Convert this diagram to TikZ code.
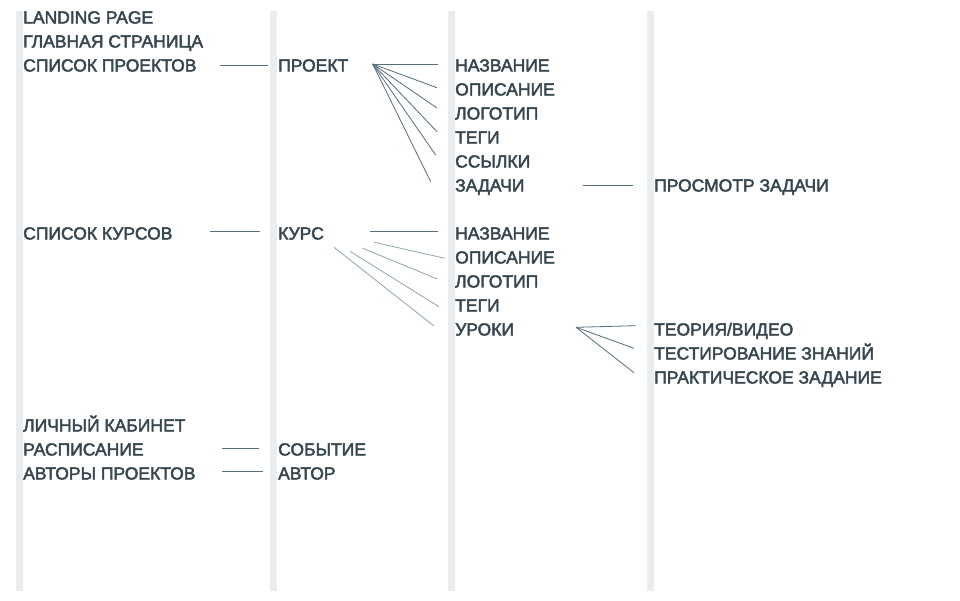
\documentclass[tikz,border=0pt]{standalone}
\usepackage{fontspec}
\setmainfont{Liberation Sans}[FakeBold=2.5]
\usepackage{tikz}

\definecolor{barcol}{HTML}{E9EDF0}
\definecolor{txtcol}{HTML}{37474F}
\definecolor{linkcol}{HTML}{546E7A}
\definecolor{softcol}{HTML}{90A4AE}

\begin{document}
\begin{tikzpicture}[x=1pt,y=-1pt,
    item/.style={anchor=base west,inner sep=0pt,text=txtcol,font=\fontsize{17.5}{17.5}\selectfont},
    link/.style={draw=linkcol,line width=0.8pt},
    soft/.style={draw=softcol,line width=0.8pt}]
\useasboundingbox[fill=white] (0,0) rectangle (960,600);
\foreach \bx in {16,270,448,647}
  \fill[barcol] (\bx,11) rectangle ++(7,580);
\node[item] (landing) at (23,23.5) {LANDING PAGE};
\node[item] (glavnaya) at (23,47.5) {ГЛАВНАЯ СТРАНИЦА};
\node[item] (spisokpr) at (23,71.5) {СПИСОК ПРОЕКТОВ};
\node[item] (spisokkr) at (23,239.5) {СПИСОК КУРСОВ};
\node[item] (kabinet) at (23,431.5) {ЛИЧНЫЙ КАБИНЕТ};
\node[item] (raspis) at (23,455.5) {РАСПИСАНИЕ};
\node[item] (avtory) at (23,479.5) {АВТОРЫ ПРОЕКТОВ};
\node[item] (proekt) at (278,71.5) {ПРОЕКТ};
\node[item] (kurs) at (278,239.5) {КУРС};
\node[item] (sobytie) at (278,455.5) {СОБЫТИЕ};
\node[item] (avtor) at (278,479.5) {АВТОР};
\node[item] (pname) at (455,71.5) {НАЗВАНИЕ};
\node[item] (pdesc) at (455,95.5) {ОПИСАНИЕ};
\node[item] (plogo) at (455,119.5) {ЛОГОТИП};
\node[item] (ptags) at (455,143.5) {ТЕГИ};
\node[item] (plinks) at (455,167.5) {ССЫЛКИ};
\node[item] (ptasks) at (455,191.5) {ЗАДАЧИ};
\node[item] (kname) at (455,239.5) {НАЗВАНИЕ};
\node[item] (kdesc) at (455,263.5) {ОПИСАНИЕ};
\node[item] (klogo) at (455,287.5) {ЛОГОТИП};
\node[item] (ktags) at (455,311.5) {ТЕГИ};
\node[item] (uroki) at (455,335.5) {УРОКИ};
\node[item] (prosmotr) at (654,191.5) {ПРОСМОТР ЗАДАЧИ};
\node[item] (teoriya) at (654,335.5) {ТЕОРИЯ/ВИДЕО};
\node[item] (testir) at (654,359.5) {ТЕСТИРОВАНИЕ ЗНАНИЙ};
\node[item] (praktika) at (654,383.5) {ПРАКТИЧЕСКОЕ ЗАДАНИЕ};
\draw[link] ([xshift=197pt,yshift=6.5pt]spisokpr.base west) -- ([xshift=-10pt,yshift=6.5pt]proekt.base west);
\foreach \to/\dx/\dy in {pname/-17/7.5,pdesc/-18/7.8,plogo/-18/11.5,ptags/-18/11.8,plinks/-19.3/12.5,ptasks/-24.3/9.8}
  \draw[link] ([xshift=94.7pt,yshift=7.5pt]proekt.base west) -- ([xshift=\dx pt,yshift=\dy pt]\to.base west);
\draw[link] ([xshift=128pt,yshift=6.5pt]ptasks.base west) -- ([xshift=-21pt,yshift=6.5pt]prosmotr.base west);
\draw[link] ([xshift=187pt,yshift=8.5pt]spisokkr.base west) -- ([xshift=-18pt,yshift=8.5pt]kurs.base west);
\draw[link] ([xshift=92pt,yshift=7.8pt]kurs.base west) -- ([xshift=-17pt,yshift=7.8pt]kname.base west);
\foreach \sx/\sy/\to/\dx/\dy in {96.3/-2.8/kdesc/-10/5.2,84.7/-8.8/klogo/-17.7/8.5,72/-11.8/ktags/-16/4.8,56/-7.8/uroki/-21/9.5}
  \draw[soft] ([xshift=\sx pt,yshift=\sy pt]kurs.base west) -- ([xshift=\dx pt,yshift=\dy pt]\to.base west);
\foreach \to/\dx/\dy in {teoriya/-18/9.8,testir/-20/11.2,praktika/-20/10.8}
  \draw[link] ([xshift=121pt,yshift=8.2pt]uroki.base west) -- ([xshift=\dx pt,yshift=\dy pt]\to.base west);
\draw[link] ([xshift=199pt,yshift=7.2pt]raspis.base west) -- ([xshift=-19pt,yshift=7.2pt]sobytie.base west);
\draw[link] ([xshift=199pt,yshift=7.8pt]avtory.base west) -- ([xshift=-15pt,yshift=7.8pt]avtor.base west);
\end{tikzpicture}
\end{document}
